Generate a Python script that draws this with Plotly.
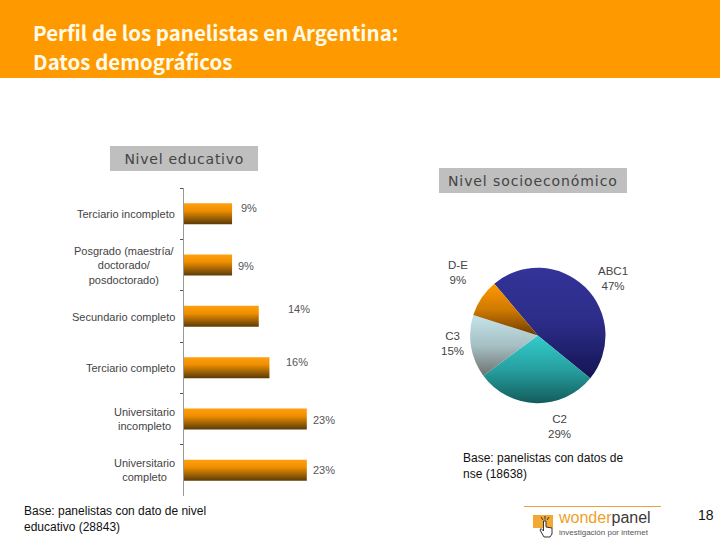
import plotly.graph_objects as go

W, H = 720, 540
TITLE_LINES = ["Perfil de los panelistas en Argentina:", "Datos demográficos"]
EDU_TITLE = "Nivel educativo"
NSE_TITLE = "Nivel socioeconómico"
EDU_CATS = ["Terciario incompleto", "Posgrado (maestría/<br>doctorado/<br>posdoctorado)",
            "Secundario completo", "Terciario completo",
            "Universitario<br>incompleto", "Universitario<br>completo"]
EDU_VALS = [9, 9, 14, 16, 23, 23]
NSE_CATS = ["ABC1", "C2", "C3", "D-E"]
NSE_VALS = [47, 29, 15, 9]
NOTE_EDU = "Base: panelistas con dato de nivel<br>educativo (28843)"
NOTE_NSE = "Base: panelistas con datos de<br>nse (18638)"
PAGE = "18"

def px(x): return x / W
def py(y): return 1 - y / H

# per-label pixel offsets (styling of annotation placement)
EDU_LABEL_DX = [16.5, 14, 40, 28, 17, 17]
EDU_LABEL_DY = [-6, 1, -7, -6, 1, 0]
NSE_LABEL_POS = [(613, 278), (559, 426), (452, 343), (458, 272)]

fig = go.Figure()
fig.add_trace(go.Bar(y=EDU_CATS, x=EDU_VALS, orientation="h", width=0.41,
                     marker=dict(color="#FF9900", line=dict(width=0)), hoverinfo="skip",
                     xaxis="x", yaxis="y"))
fig.add_trace(go.Pie(labels=NSE_CATS, values=NSE_VALS, sort=False, direction="clockwise",
                     rotation=-40, textinfo="none", showlegend=False, hoverinfo="skip",
                     marker=dict(colors=["#333399", "#33CCCC", "#C0E0E6", "#FF9900"], line=dict(width=0)),
                     domain=dict(x=[px(537.8 - 67.7), px(537.8 + 67.7)], y=[py(335.5 + 67.7), py(335.5 - 67.7)])))

ann = []
def text(x, y, t, size, color, anchor="center", font="Liberation Sans", align=None):
    ann.append(dict(x=px(x), y=py(y), xref="paper", yref="paper", text=t, showarrow=False,
                    xanchor=anchor, yanchor="middle", align=align or anchor,
                    font=dict(size=size, color=color, family=font)))

text(31, 32, "<b>" + TITLE_LINES[0] + "</b>", 20.5, "#FFFBEA", "left", "Noto Sans CJK JP")
text(31, 61, "<b>" + TITLE_LINES[1] + "</b>", 20.5, "#FFFBEA", "left", "Noto Sans CJK JP")
text(184, 158.5, EDU_TITLE, 14, "#444444", "center", "DejaVu Sans")
text(533, 180.5, NSE_TITLE, 14, "#444444", "center", "DejaVu Sans")

EDU_LABEL_Y = [213.5, 265.5, 316.5, 368, 419, 470]
for c, ly in zip(EDU_CATS, EDU_LABEL_Y):
    text(177, ly, c, 11, "#444444", "right", align="center")
for v, c, dx, dy in zip(EDU_VALS, EDU_CATS, EDU_LABEL_DX, EDU_LABEL_DY):
    ann.append(dict(x=v, y=c, xref="x", yref="y", text=f"{v}%", showarrow=False, xshift=dx, yshift=-dy,
                    font=dict(size=11, color="#555555", family="Liberation Sans")))
for n, v, (x, y) in zip(NSE_CATS, NSE_VALS, NSE_LABEL_POS):
    text(x, y, f"{n}<br>{v}%", 11.5, "#444444", "center")

text(22, 518.5, NOTE_EDU, 12, "#111111", "left")
text(461, 465.5, NOTE_NSE, 12, "#111111", "left")
text(705.5, 515, PAGE, 14, "#111111", "center")
text(556, 517, "<span style='color:#F0A02A'>wonder</span><span style='color:#3A3A3A'>panel</span>", 16, "#444444", "left")
text(557, 532, "investigación por internet", 8, "#555555", "left")

shapes = [
    dict(type="rect", xref="paper", yref="paper", x0=0, x1=1, y0=py(78), y1=1, fillcolor="#FF9900", line_width=0, layer="below"),
    dict(type="rect", xref="paper", yref="paper", x0=px(110), x1=px(258), y0=py(171), y1=py(146), fillcolor="#BFBFBF", line_width=0, layer="below"),
    dict(type="rect", xref="paper", yref="paper", x0=px(439), x1=px(627), y0=py(193), y1=py(168), fillcolor="#BFBFBF", line_width=0, layer="below"),
    dict(type="line", xref="paper", yref="paper", x0=px(524), x1=px(661), y0=py(506.5), y1=py(506.5), line=dict(color="#E8A040", width=1)),
    dict(type="rect", xref="paper", yref="paper", x0=px(533), x1=px(553), y0=py(528), y1=py(515), fillcolor="#F2A834", line_width=0),
]
hand = [(544, 537), (540, 530), (541, 528.5), (543.5, 531), (543.5, 521), (546, 521), (546, 527), (552, 528), (552, 534), (550, 537)]
shapes.append(dict(type="path", xref="paper", yref="paper",
                   path="M " + " L ".join(f"{px(a):.5f},{py(b):.5f}" for a, b in hand) + " Z",
                   fillcolor="#FFFFFF", line=dict(color="#333333", width=1)))
for a, b, c, d in [(545, 519.5, 545, 516), (543, 520, 541, 517), (547, 520, 549, 517)]:
    shapes.append(dict(type="line", xref="paper", yref="paper", x0=px(a), y0=py(b), x1=px(c), y1=py(d),
                       line=dict(color="#333333", width=1)))

fig.update_layout(
    width=W, height=H, margin=dict(l=0, r=0, t=0, b=0), autosize=False,
    paper_bgcolor="white", plot_bgcolor="rgba(0,0,0,0)", showlegend=False,
    annotations=ann, shapes=shapes,
    xaxis=dict(domain=[px(184), px(184 + 5.34 * 30)], range=[0, 30], visible=False),
    yaxis=dict(domain=[py(496), py(188)], autorange="reversed", type="category",
               showticklabels=False, showgrid=False, zeroline=False, showline=True,
               linecolor="#999999", linewidth=1, ticks="outside", ticklen=3, tickcolor="#555555",
               tickson="boundaries", anchor="x"),
)

post = """
document.body.style.margin='0';document.documentElement.style.overflow='hidden';
var gd=document.getElementById('{plot_id}');
var svg=gd.querySelector('.main-svg');
var ns='http://www.w3.org/2000/svg';
var defs=document.createElementNS(ns,'defs');svg.insertBefore(defs,svg.firstChild);
function grad(id,stops){var g=document.createElementNS(ns,'linearGradient');g.setAttribute('id',id);
 g.setAttribute('x1','0');g.setAttribute('y1','0');g.setAttribute('x2','0');g.setAttribute('y2','1');
 stops.forEach(function(s){var e=document.createElementNS(ns,'stop');e.setAttribute('offset',s[0]);e.setAttribute('stop-color',s[1]);g.appendChild(e);});
 defs.appendChild(g);return 'url(#'+id+')';}
var bar=grad('gBar',[[0,'#FFA010'],[0.35,'#F09000'],[1,'#5A3A08']]);
gd.querySelectorAll('.bars .point path').forEach(function(p){p.style.fill=bar;});
var pies=[[['0','#333399'],['0.5','#2C2C88'],['1','#141452']],
          [['0','#33CCCC'],['0.5','#26A0A0'],['1','#145C5C']],
          [['0','#C4E4EA'],['0.5','#A6C0C4'],['1','#6E7272']],
          [['0','#FF9900'],['0.5','#D07A00'],['1','#6E3C00']]];
gd.querySelectorAll('.slice path.surface').forEach(function(p,i){p.style.fill=grad('gPie'+i,pies[i]);});
gd.querySelectorAll('.annotation-text').forEach(function(t){
 var s=t.textContent;
 if(s==='Nivel educativo'){t.style.letterSpacing='0.75px';}
 if(s==='Nivel socioeconómico'){t.style.letterSpacing='0.9px';}
});
"""
fig.write_html("out.html", post_script=post, config={"displayModeBar": False})
